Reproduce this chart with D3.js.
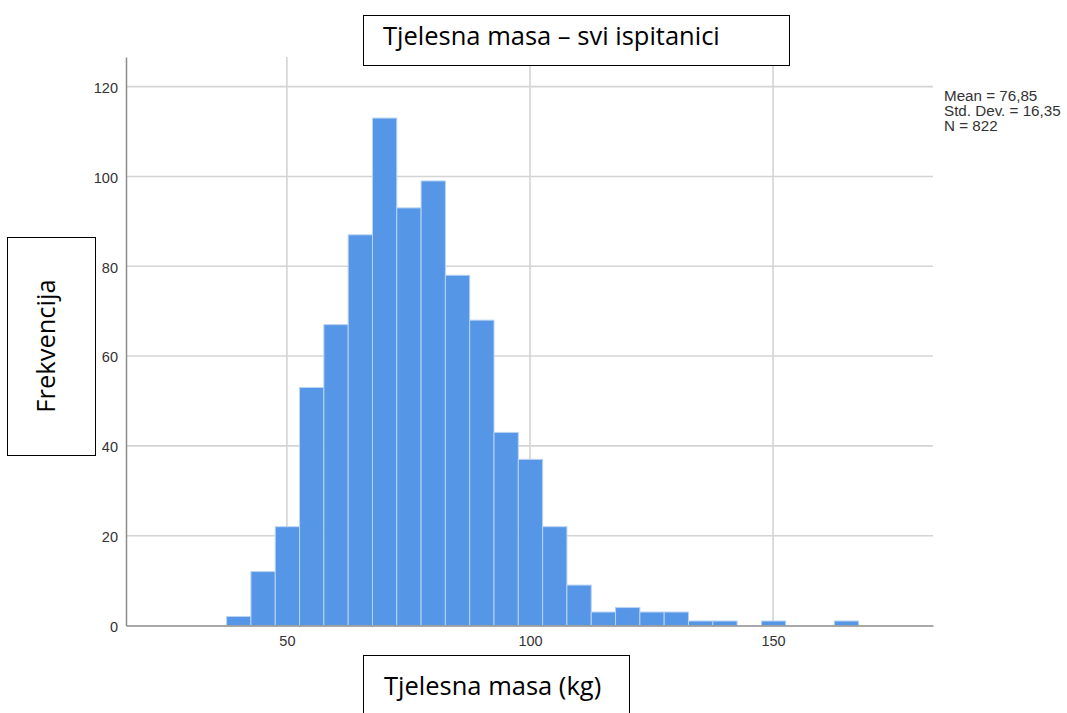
<!DOCTYPE html>
<html><head><meta charset="utf-8">
<script src="https://cdn.jsdelivr.net/npm/d3@7"></script>
<style>body{margin:0;background:#fff}svg{display:block}</style>
</head><body>
<svg id="c" width="1067" height="713"></svg>
<script>
// Data
const binStarts = [37.6,42.6,47.6,52.6,57.6,62.6,67.6,72.6,77.6,82.6,87.6,92.6,97.6,102.6,107.6,112.6,117.6,122.6,127.6,132.6,137.6,142.6,147.6,152.6,157.6,162.6];
const counts    = [2,12,22,53,67,87,113,93,99,78,68,43,37,22,9,3,4,3,3,1,1,0,1,0,0,1];
const binWidth = 5;
const xTicks = [50,100,150];
const yTicks = [0,20,40,60,80,100,120];
const statsLines = ["Mean = 76,85","Std. Dev. = 16,35","N = 822"];
const title = "Tjelesna masa – svi ispitanici";
const xLabel = "Tjelesna masa (kg)";
const yLabel = "Frekvencija";

const svg = d3.select("#c");
const L=126, R=933, T=57, B=625.5;
const x = d3.scaleLinear().domain([16.9,182.9]).range([L,R]);
const y = d3.scaleLinear().domain([0,126.6]).range([B,T]);
const tickFont = "Liberation Sans, Arial, sans-serif";

// grid
const grid = svg.append("g").attr("stroke","#d4d4d4").attr("stroke-width",1.6);
grid.selectAll(".h").data(yTicks.filter(d=>d>0)).join("line")
  .attr("x1",L).attr("x2",R).attr("y1",d=>y(d)).attr("y2",d=>y(d));
grid.selectAll(".v").data(xTicks).join("line")
  .attr("x1",d=>x(d)).attr("x2",d=>x(d)).attr("y1",T).attr("y2",B);

// bars
const data = binStarts.map((s,i)=>({s, c:counts[i]})).filter(d=>d.c>0);
svg.append("g").selectAll("rect").data(data).join("rect")
  .attr("x",d=>x(d.s)).attr("width",d=>x(d.s+binWidth)-x(d.s))
  .attr("y",d=>y(d.c)).attr("height",d=>y(0)-y(d.c))
  .attr("fill","#5596e6").attr("stroke","#b9d3f3").attr("stroke-width",1);

// axes
const ax = svg.append("g").attr("transform",`translate(0,${B})`)
  .call(d3.axisBottom(x).tickValues(xTicks).tickSize(0).tickPadding(10));
ax.select(".domain").attr("stroke","#8c8c8c").attr("stroke-width",1.5);
ax.selectAll("text").attr("font-family",tickFont).attr("font-size",14.5).attr("fill","#333");
const ay = svg.append("g").attr("transform",`translate(${L},0)`)
  .call(d3.axisLeft(y).tickValues(yTicks).tickSize(0).tickPadding(8));
ay.select(".domain").attr("stroke","#8c8c8c").attr("stroke-width",1.5);
ay.selectAll("text").attr("font-family",tickFont).attr("font-size",14.5).attr("fill","#333").attr("dy","0.4em");

// stats
const st = svg.append("text").attr("font-family",tickFont).attr("font-size",15.2).attr("fill","#333");
st.selectAll("tspan").data(statsLines).join("tspan")
  .attr("x",944).attr("y",(d,i)=>100.5+i*15).text(d=>d);

// boxes
function box(x0,y0,w,h){ svg.append("rect").attr("x",x0).attr("y",y0).attr("width",w).attr("height",h)
  .attr("fill","#fff").attr("stroke","#000").attr("stroke-width",1); }
const lblFont = "Open Sans, sans-serif";
box(363.5,15.5,426,50);
svg.append("text").attr("x",383).attr("y",45).attr("font-family",lblFont).attr("font-size",25.5).attr("fill","#000").text(title);
box(363.5,655.5,266,62);
svg.append("text").attr("x",384).attr("y",695).attr("font-family",lblFont).attr("font-size",25.5).attr("fill","#000").text(xLabel);
box(7.5,237.5,88,218);
svg.append("text").attr("transform","translate(55,346) rotate(-90)").attr("text-anchor","middle")
  .attr("font-family",lblFont).attr("font-size",25.5).attr("fill","#000").text(yLabel);
</script>
</body></html>
